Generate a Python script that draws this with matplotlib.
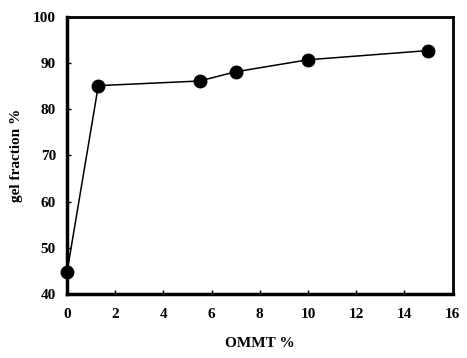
import matplotlib.pyplot as plt

ommt = [0, 1.3, 5.5, 7, 10, 15]
gel_fraction = [44.7, 85.1, 86.1, 88.1, 90.7, 92.7]

x_ticks = [0, 2, 4, 6, 8, 10, 12, 14, 16]
y_ticks = [40, 50, 60, 70, 80, 90, 100]

plt.rcParams['font.family'] = 'Liberation Serif'
plt.rcParams['font.weight'] = 'bold'

fig = plt.figure(figsize=(4.67, 3.58), dpi=100)
ax = fig.add_axes([0.1435, 0.179, 0.8255, 0.774])

ax.plot(ommt, gel_fraction, color='black', linewidth=1.1,
        marker='o', markersize=9, markerfacecolor='black', clip_on=False, zorder=3)

ax.set_xlim(0, 16)
ax.set_ylim(40, 100)
ax.set_xticks(x_ticks)
ax.set_yticks(y_ticks)
ax.tick_params(direction='in', length=3, width=1, labelsize=11)
ax.tick_params(axis='x', pad=10)
ax.tick_params(axis='y', pad=8)
for lbl in ax.get_xticklabels() + ax.get_yticklabels():
    lbl.set_fontweight('bold')

ax.spines['left'].set_linewidth(2.5)
ax.spines['bottom'].set_linewidth(2.5)
ax.spines['top'].set_linewidth(2)
ax.spines['right'].set_linewidth(2)

ax.set_xlabel('OMMT %', fontsize=11, fontweight='bold', labelpad=12)
ax.set_ylabel('gel fraction %', fontsize=11, fontweight='bold', labelpad=7)

fig.savefig('out.png', dpi=100)
